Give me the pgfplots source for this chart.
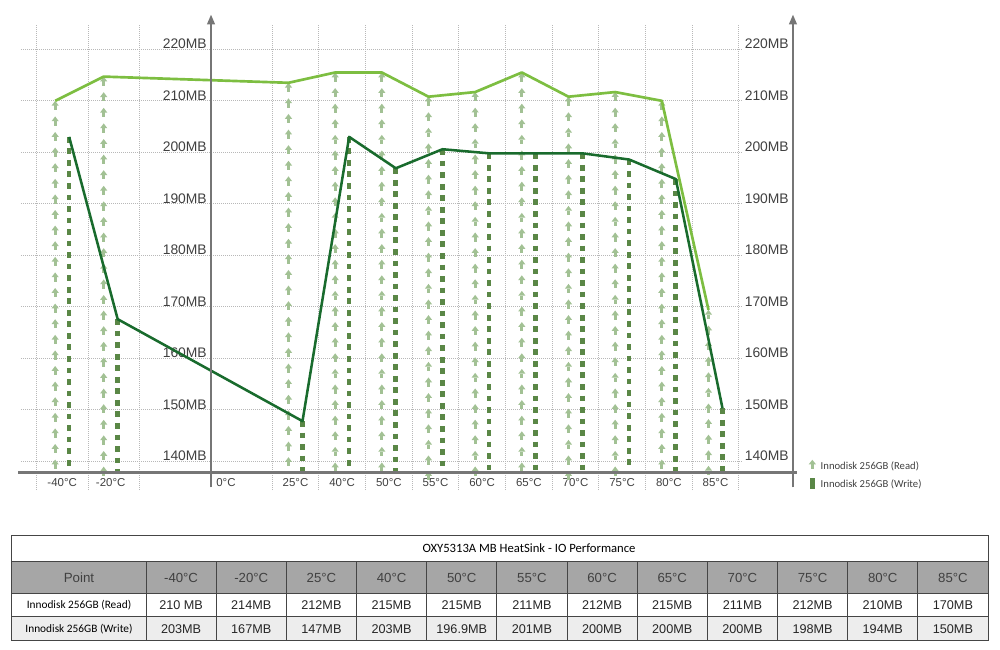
\documentclass[border=0pt]{standalone}
\usepackage{fontspec}
\setmainfont{Liberation Sans}
\newfontfamily\calibri{Carlito}
\usepackage{pgfplots}
\usepackage{pgfplotstable}
\pgfplotsset{compat=1.18}
\usetikzlibrary{decorations.markings,arrows.meta}

\definecolor{readline}{HTML}{7DBE41}
\definecolor{writeline}{HTML}{196B2D}
\definecolor{readbar}{HTML}{A2C194}
\definecolor{writebar}{HTML}{5A8746}
\definecolor{axisgray}{HTML}{767676}
\definecolor{txt}{HTML}{404040}
\definecolor{hdr}{HTML}{A6A6A6}
\definecolor{rowgray}{HTML}{EDEDED}
\definecolor{tblline}{HTML}{454545}

% x = category position (25C and up one step apart), read / write in MB
\pgfplotstableread{
x     read   write
0     210.0  203.0
1.04  214.7  167.6
5     213.5  147.8
6     215.5  203.0
7     215.5  196.9
8     210.8  200.6
9     211.7  199.8
10    215.5  199.8
11    210.8  199.8
12    211.7  198.6
13    210.0  194.8
14    169.4  150.3
}\perf

\begin{document}
\begin{tikzpicture}
\useasboundingbox (-15.75pt,-120pt) rectangle (734.25pt,367.5pt);
\begin{axis}[
    at={(0,0)}, anchor=south west,
    x=35.0pt, y=3.8625pt,
    xmin=-0.882, xmax=14.589,
    ymin=134.43, ymax=224.72,
    clip=false,
    axis line style={draw=none},
    major tick length=0pt,
    tick style={draw=none},
    xtick={0,1.04,3.51,5,6,7,8,9,10,11,12,13,14},
    xticklabels={-40°C,-20°C,0°C,25°C,40°C,50°C,55°C,60°C,65°C,70°C,75°C,80°C,85°C},
    xticklabel style={anchor=base, inner sep=0pt, yshift=2.3pt,
        font=\fontsize{8.6}{10}\selectfont, text=txt},
    extra x ticks={-0.56,0.554,1.66,4.5,5.5,6.5,7.5,8.5,9.5,10.5,11.5,12.5,13.5,14.5},
    extra x tick labels={},
    extra x tick style={grid=major},
    ytick={140,150,160,170,180,190,200,210,220},
    yticklabels={140MB,150MB,160MB,170MB,180MB,190MB,200MB,210MB,220MB},
    yticklabel style={anchor=base east, inner sep=0pt, xshift=139.5pt, yshift=0.6pt,
        font=\fontsize{10.4}{12}\selectfont, text=txt},
    extra y ticks={140,150,160,170,180,190,200,210,220},
    extra y tick labels={140MB,150MB,160MB,170MB,180MB,190MB,200MB,210MB,220MB},
    extra y tick style={grid=none, yticklabel style={xshift=436.5pt}},
    ymajorgrids=true,
    grid style={color=black!28, line width=0.75pt, dash pattern=on 0.75pt off 0.75pt},
    legend style={at={(1.0907,0.0656)}, anchor=north west, draw=none, fill=none,
        inner sep=0pt, row sep=4.75pt,
        nodes={inner sep=0pt, text height=6pt, text depth=2pt},
        /tikz/every odd column/.append style={column sep=3.6pt},
        font=\calibri\fontsize{8}{9.6}\selectfont, text=txt},
    legend cell align=left,
]

% read: stacked up-arrows
\addplot[draw=none, no markers,
    quiver={u=0, v=137.86-\thisrow{read}},
    quiver/every arrow/.style={draw=none, postaction={decorate, decoration={markings,
        mark=between positions 0 and 1 step 11.7pt with {
            \fill[readbar] (0pt,0pt) -- (3.6pt,2.7pt) -- (3.6pt,-2.7pt) -- cycle;
            \fill[readbar] (3.5pt,-1.05pt) rectangle (6.9pt,1.05pt);}}}},
    legend image code/.code={
        \fill[readbar] (2.7pt,5.2pt) -- (0pt,1.8pt) -- (5.4pt,1.8pt) -- cycle;
        \fill[readbar] (1.65pt,-1.6pt) rectangle (3.75pt,1.9pt);}
    ] table[x expr=\thisrow{x}-0.15, y=read] {\perf};
\addlegendentry{Innodisk 256GB (Read)}

% write: dashed columns
\addplot[writebar, no markers,
    quiver={u=0, v=137.86-\thisrow{write}},
    quiver/every arrow/.style={draw=writebar, line width=3.5pt, dash pattern=on 4.3pt off 4.35pt},
    legend image code/.code={
        \fill[writebar] (1.1pt,-0.2pt) rectangle (4.3pt,5pt);
        \fill[writebar] (1.1pt,-1.9pt) rectangle (4.3pt,-0.9pt);}
    ] table[x expr=\thisrow{x}+0.15, y=write] {\perf};
\addlegendentry{Innodisk 256GB (Write)}

\addplot[readline, line width=2pt, line join=round, no markers, forget plot]
    table[x expr=\thisrow{x}-0.15, y=read] {\perf};
\addplot[writeline, line width=1.9pt, line join=round, no markers, forget plot]
    table[x expr=\thisrow{x}+0.15, y=write] {\perf};

% axis lines
\draw[axisgray, line width=1.9pt] (axis cs:-0.94,137.86) -- (axis cs:15.74,137.86);
\draw[axisgray, line width=1.9pt, -{Triangle[width=5.5pt,length=7.5pt]}]
    (axis cs:3.19,134.95) -- (axis cs:3.19,226.8);
\draw[axisgray, line width=1.9pt, -{Triangle[width=5.5pt,length=7.5pt]}]
    (axis cs:15.66,134.95) -- (axis cs:15.66,226.8);
\end{axis}

% table below the chart, in pixel coordinates of the reference
\begin{scope}[shift={(-15.75pt,367.5pt)}, x=0.75pt, y=-0.75pt]
\fill[hdr] (12,561) rectangle (988,593);
\fill[rowgray] (12,616) rectangle (988,640);
\draw[tblline, line width=0.75pt] (12,535) rectangle (988,640);
\draw[tblline, line width=0.75pt] (12,561) -- (988,561) (12,593) -- (988,593) (12,616) -- (988,616);
\foreach \i in {0,...,11}
    \draw[tblline, line width=0.75pt] ({146+70.1667*\i},561) -- ({146+70.1667*\i},640);
\node[anchor=base, inner sep=0pt, font=\calibri\fontsize{9.5}{11}\selectfont, text=black]
    at (529,552) {OXY5313A MB HeatSink - IO Performance};
\node[anchor=base, inner sep=0pt, font=\fontsize{10}{12}\selectfont, text=txt] at (79,582.5) {Point};
\node[anchor=base, inner sep=0pt, font=\calibri\fontsize{8.5}{10}\selectfont] at (79,608) {Innodisk 256GB (Read)};
\node[anchor=base, inner sep=0pt, font=\calibri\fontsize{8.5}{10}\selectfont] at (79,632.5) {Innodisk 256GB (Write)};
\foreach \t [count=\k from 0] in {-40°C,-20°C,25°C,40°C,50°C,55°C,60°C,65°C,70°C,75°C,80°C,85°C}
    \node[anchor=base, inner sep=0pt, font=\fontsize{9.9}{12}\selectfont, text=txt]
        at ({146+70.1667*(\k+0.5)},582.5) {\t};
\foreach \t [count=\k from 0] in {210 MB,214MB,212MB,215MB,215MB,211MB,212MB,215MB,211MB,212MB,210MB,170MB}
    \node[anchor=base, inner sep=0pt, font=\fontsize{9.5}{12}\selectfont, text=black!85]
        at ({146+70.1667*(\k+0.5)},609) {\t};
\foreach \t [count=\k from 0] in {203MB,167MB,147MB,203MB,196.9MB,201MB,200MB,200MB,200MB,198MB,194MB,150MB}
    \node[anchor=base, inner sep=0pt, font=\fontsize{9.5}{12}\selectfont, text=black!85]
        at ({146+70.1667*(\k+0.5)},633.5) {\t};
\end{scope}
\end{tikzpicture}
\end{document}
